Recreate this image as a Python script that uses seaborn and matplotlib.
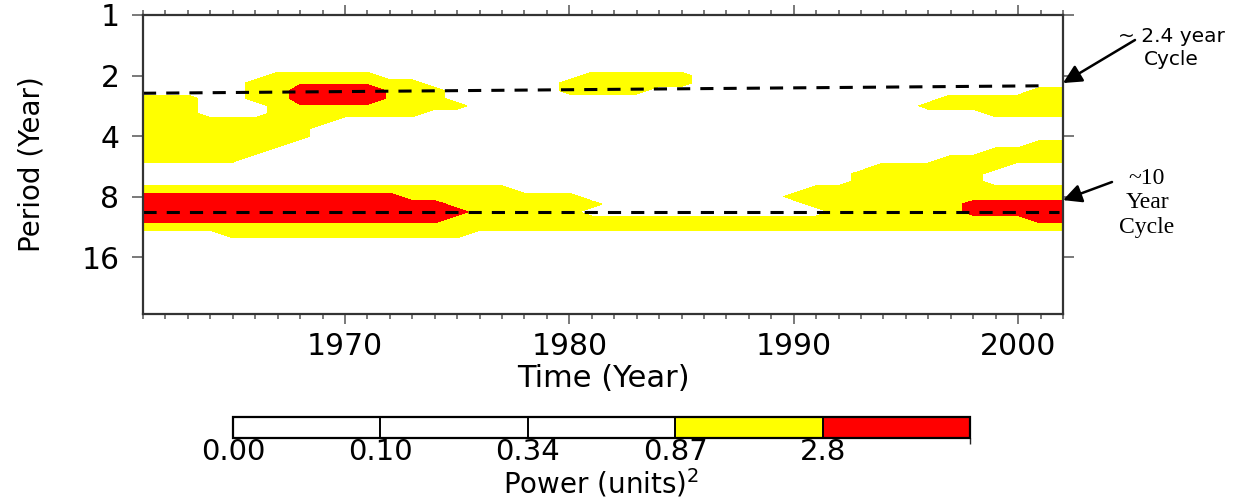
import numpy as np
import pandas as pd
import matplotlib
matplotlib.use("Agg")
import matplotlib.pyplot as plt
import seaborn as sns
from matplotlib.colors import ListedColormap, BoundaryNorm
from matplotlib.cm import ScalarMappable
from matplotlib.ticker import FixedLocator, NullLocator
from matplotlib.font_manager import FontProperties

sns.set_theme(style="ticks")
plt.rcParams["font.family"] = ["DejaVu Sans"]
plt.rcParams["text.color"] = "black"
plt.rcParams["axes.labelcolor"] = "black"
plt.rcParams["xtick.labelcolor"] = "black"
plt.rcParams["ytick.labelcolor"] = "black"

# ---- data -------------------------------------------------------------
# one sample per year
years = list(range(1961, 2003))
# log2(period) in eighth-of-an-octave steps (period 1.41 .. 14.7 yr)
log2_periods = [0.5 + 0.125 * k for k in range(28)]

# wavelet power per sample: '.' weak, 'y' moderate, 'o' moderate-high, 'r' strong
power_code = {".": 0.05, "y": 1.5, "o": 2.5, "r": 4.0}
# columns grouped by decade: 1961-70 | 1971-80 | 1981-90 | 1991-2000 | 2001-02
power_rows = [
    ".......... .......... .......... .......... ..",
    ".......... .......... .......... .......... ..",
    ".......... .......... .......... .......... ..",
    ".......... .......... .......... .......... ..",
    "......yyyy y......... yyyyy..... .......... ..",
    ".....yyooo oyy......y yyyyy..... .......... ..",
    ".....yyrrr royy.....y yyy....... .......... yy",
    "yyy..yyrrr royy...... .......... ......yyyy yy",
    "yyy...yooo oyyyy..... .......... .....yyyyy yy",
    "yyy...yyyy yyy....... .......... ........yy yy",
    "yyyyyyyyy. .......... .......... .......... ..",
    "yyyyyyyy.. .......... .......... .......... ..",
    "yyyyyyyy.. .......... .......... .......... ..",
    "yyyyyyy... .......... .......... .......... yy",
    "yyyyyy.... .......... .......... ........yy yy",
    "yyyyy..... .......... .......... ......yyyy yy",
    ".......... .......... .......... ...yyyyyy. ..",
    ".......... .......... .......... ..yyyyyy.. ..",
    ".......... .......... .......... ..yyyyyy.. ..",
    "yyyyyyyyyy yyyyyyy... .......... yyyyyyyyyy yy",
    "rrrrrrrrrr rryyyyyyyy .........y yyyyyyyyyy yy",
    "rrrrrrrrrr rrrryyyyyy y......... yyyyyyyrrr rr",
    "rrrrrrrrrr rrrrryyyyy .......... .yyyyyyrrr rr",
    "rrrrrrrrrr rrrryyyyyy yyyyyyyyyy yyyyyyyyyy rr",
    "yyyyyyyyyy yyyyyyyyyy yyyyyyyyyy yyyyyyyyyy yy",
    "....yyyyyy yyyyy..... .......... .......... ..",
    ".......... .......... .......... .......... ..",
    ".......... .......... .......... .......... ..",
]

# contour levels and colour key
power_levels = [0.0, 0.10, 0.34, 0.87, 2.8, 9.0]
level_labels = ["0.00", "0.10", "0.34", "0.87", "2.8"]
level_colors = ["white", "white", "white", "#ffff00", "#ff0000"]

# dominant cycles (year, period)
cycle_24_years = [1961, 2001.0]
cycle_24_periods = [2.45, 2.25]
cycle_10_years = [1961, 2001.8]
cycle_10_periods = [9.55, 9.55]

# ---- figure -----------------------------------------------------------
W, H = 1240, 501
fig = plt.figure(figsize=(W / 100, H / 100), dpi=100)
fig.patch.set_facecolor("white")
ax = fig.add_axes([143 / W, 1 - 314 / H, 920 / W, 299 / H])
ax.set_facecolor("white")

power = np.array([[power_code[c] for c in row.replace(" ", "")] for row in power_rows])
periods = 2.0 ** np.array(log2_periods)
T, P = np.meshgrid(years, periods)

cmap = ListedColormap(level_colors)
norm = BoundaryNorm(power_levels, cmap.N)
ax.contourf(T, P, power, levels=power_levels, colors=level_colors, antialiased=False)

dash = (0, (4.3, 3.3))
sns.lineplot(x=cycle_24_years, y=cycle_24_periods, ax=ax, color="black",
             lw=2.2, linestyle=dash, estimator=None, sort=False)
sns.lineplot(x=cycle_10_years, y=cycle_10_periods, ax=ax, color="black",
             lw=2.2, linestyle=dash, estimator=None, sort=False)

ax.set_yscale("log", base=2)
ax.set_ylim(2 ** 4.94, 1)
ax.set_xlim(years[0], years[-1])

ax.yaxis.set_major_locator(FixedLocator([1, 2, 4, 8, 16]))
ax.yaxis.set_minor_locator(NullLocator())
ax.set_yticklabels(["1", "2", "4", "8", "16"])
ax.xaxis.set_major_locator(FixedLocator([1970, 1980, 1990, 2000]))
ax.xaxis.set_minor_locator(FixedLocator(years))
ax.set_xticklabels(["1970", "1980", "1990", "2000"])

tick_color = "#555555"
ax.tick_params(axis="x", which="major", direction="out", length=7, width=1.1,
               color=tick_color, labelcolor="black", top=True, bottom=True,
               labelsize=21.5, pad=6)
ax.tick_params(axis="x", which="minor", direction="out", length=3.5, width=1.1,
               color=tick_color, top=True, bottom=True)
ax.tick_params(axis="y", which="major", direction="out", length=8, width=1.1,
               color=tick_color, labelcolor="black", left=True, right=True,
               labelsize=21.5, pad=9)
for s in ax.spines.values():
    s.set_visible(True)
    s.set_color("#333333")
    s.set_linewidth(1.6)

ax.set_ylabel("Period (Year)", fontsize=20, labelpad=26, color="black")
ax.set_xlabel("Time (Year)", fontsize=22, labelpad=2, color="black")

# ---- arrows and notes for the two cycles -----------------------------
arrow = dict(arrowstyle="-|>", color="black", lw=1.8, mutation_scale=28,
             shrinkA=0, shrinkB=0)
ax.annotate("", xy=(years[-1], 2.18), xycoords="data",
            xytext=(1135 / W, 1 - 40 / H), textcoords="figure fraction",
            arrowprops=arrow, annotation_clip=False)
ax.annotate("", xy=(years[-1], 8.33), xycoords="data",
            xytext=(1112 / W, 1 - 182 / H), textcoords="figure fraction",
            arrowprops=arrow, annotation_clip=False)
fig.text(1171 / W, 1 - 48 / H, "~ 2.4 year\nCycle", ha="center", va="center",
         linespacing=1.3, color="black",
         fontproperties=FontProperties(family="DejaVu Sans", size=14.5))
fig.text(1147 / W, 1 - 203 / H, "~10\nYear\nCycle", ha="center", va="center",
         linespacing=1.2, color="black",
         fontproperties=FontProperties(family="Liberation Serif", size=17))

# ---- colour key -------------------------------------------------------
cax = fig.add_axes([233 / W, 1 - 438 / H, 737 / W, 21 / H])
cbar = fig.colorbar(ScalarMappable(norm=norm, cmap=cmap), cax=cax,
                    orientation="horizontal", spacing="uniform", drawedges=True,
                    ticks=power_levels[:-1])
cbar.ax.set_xticklabels(level_labels)
cbar.ax.tick_params(length=0, labelsize=21, pad=0, labelcolor="black")
cbar.outline.set_linewidth(1.6)
cbar.outline.set_edgecolor("black")
cbar.dividers.set_linewidth(1.4)
cbar.dividers.set_color("black")
cbar.ax.set_xlabel("Power (units)$^2$", fontsize=20, labelpad=0.5, color="black")

fig.savefig("out.png", dpi=100, facecolor="white")
